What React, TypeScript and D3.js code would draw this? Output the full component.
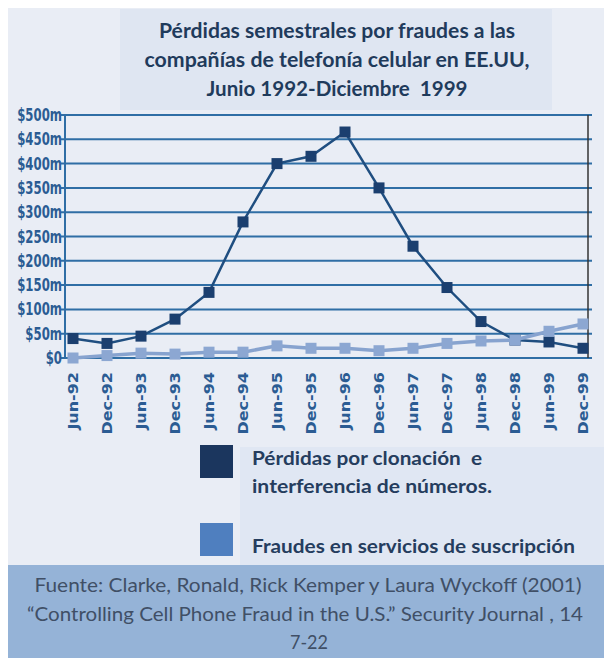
import React from "react";
import * as d3 from "d3";

// semestres
const categories = [
  "Jun-92", "Dec-92", "Jun-93", "Dec-93", "Jun-94", "Dec-94", "Jun-95", "Dec-95",
  "Jun-96", "Dec-96", "Jun-97", "Dec-97", "Jun-98", "Dec-98", "Jun-99", "Dec-99",
];
// millones de dólares
const clonacion = [40, 30, 45, 80, 135, 280, 400, 415, 465, 350, 230, 145, 75, 37, 33, 20];
const suscripcion = [0, 5, 10, 8, 12, 12, 25, 20, 20, 15, 20, 30, 35, 37, 55, 70];
const yTicks = [0, 50, 100, 150, 200, 250, 300, 350, 400, 450, 500];

const titleLines = [
  "Pérdidas semestrales por fraudes a las",
  "compañías de telefonía celular en EE.UU,",
  "Junio 1992-Diciembre  1999",
];
const legendItems = [
  { lines: ["Pérdidas por clonación  e", "interferencia de números."], color: "#1b365e" },
  { lines: ["Fraudes en servicios de suscripción"], color: "#4f7fbf" },
];
const sourceLines = [
  "Fuente: Clarke, Ronald, Rick Kemper y Laura Wyckoff (2001)",
  "“Controlling Cell Phone Fraud in the U.S.” Security Journal , 14",
  "7-22",
];

export default function App() {
  const width = 604;
  const height = 658;

  const x = d3.scalePoint<string>().domain(categories).range([73, 583]);
  const y = d3.scaleLinear().domain([0, 500]).range([358, 115]);

  const line = d3
    .line<number>()
    .x((d, i) => x(categories[i]) as number)
    .y((d) => y(d));

  const series = [
    { values: clonacion, stroke: "#1f4e80", fill: "#1b3f6f", sw: 2.5 },
    { values: suscripcion, stroke: "#87a3cf", fill: "#8ca7d2", sw: 3.5 },
  ];

  const tickFont = "'DejaVu Sans Condensed', 'DejaVu Sans', sans-serif";
  const textFont = "Lato, 'Open Sans', sans-serif";

  return (
    <svg width={width} height={height} style={{ position: "absolute", left: 0, top: 0 }}>
      <rect x={0} y={0} width={width} height={height} fill="#ffffff" />
      {/* panel de fondo */}
      <rect x={8} y={8} width={width - 8} height={height - 8} fill="#e9edf5" />
      {/* caja del título */}
      <rect x={120} y={9} width={432} height={101} fill="#dfe6f2" />
      {titleLines.map((t, i) => (
        <text
          key={t}
          x={337}
          y={38 + i * 29}
          textAnchor="middle"
          fontFamily={textFont}
          fontWeight={700}
          fontSize={20}
          fill="#1f3b5c"
          textLength={[356, 385, 261][i]}
          lengthAdjust="spacingAndGlyphs"
          style={{ whiteSpace: "pre" }}
        >
          {t}
        </text>
      ))}

      {/* rejilla */}
      {yTicks.map((t) => (
        <line key={t} x1={61} x2={592} y1={y(t)} y2={y(t)} stroke="#2f6ea5" strokeWidth={2} />
      ))}
      <line x1={65} x2={65} y1={y(500)} y2={y(0)} stroke="#2f6ea5" strokeWidth={2} />
      <line x1={588} x2={588} y1={y(500)} y2={y(0)} stroke="#333333" strokeWidth={1.5} />

      {/* etiquetas eje y */}
      {yTicks.map((t) => (
        <text
          key={t}
          transform={`translate(62,${y(t) + 6}) scale(0.93,1.3)`}
          textAnchor="end"
          fontFamily={tickFont}
          fontWeight={700}
          fontSize={14}
          fill="#2b5c93"
        >
          {t === 0 ? "$0" : `$${t}m`}
        </text>
      ))}

      {/* etiquetas eje x */}
      {categories.map((c) => (
        <text
          key={c}
          transform={`translate(${(x(c) as number) + 5},372) rotate(-90) scale(1.27,1)`}
          textAnchor="end"
          fontFamily={tickFont}
          fontWeight={700}
          fontSize={14}
          fill="#2b5c93"
        >
          {c}
        </text>
      ))}

      {/* series */}
      {series.map((s, k) => (
        <g key={k}>
          <path d={line(s.values) || ""} fill="none" stroke={s.stroke} strokeWidth={s.sw} />
          {s.values.map((v, i) => (
            <rect
              key={i}
              x={(x(categories[i]) as number) - 5.5}
              y={y(v) - 5.5}
              width={11}
              height={11}
              fill={s.fill}
            />
          ))}
        </g>
      ))}

      {/* leyenda */}
      <rect x={240} y={447} width={364} height={118} fill="#e0e7f3" />
      {legendItems.map((item, k) => (
        <g key={k}>
          <rect x={200} y={k === 0 ? 445 : 523} width={33} height={33} fill={item.color} />
          {item.lines.map((l, j) => (
            <text
              key={l}
              x={252}
              y={k === 0 ? 465 + j * 28 : 553}
              fontFamily={textFont}
              fontWeight={700}
              fontSize={18}
              fill="#253d5e"
              textLength={k === 0 ? [230, 240][j] : 323}
              lengthAdjust="spacingAndGlyphs"
              style={{ whiteSpace: "pre" }}
            >
              {l}
            </text>
          ))}
        </g>
      ))}

      {/* fuente */}
      <rect x={8} y={565} width={width - 8} height={height - 565} fill="#95b3d7" />
      {sourceLines.map((l, i) => (
        <text
          key={l}
          x={[308, 305, 309][i]}
          y={592 + i * 28.5}
          textAnchor="middle"
          fontFamily={textFont}
          fontSize={20}
          fill="#404f66"
          textLength={[547, 556, 38][i]}
          lengthAdjust="spacingAndGlyphs"
        >
          {l}
        </text>
      ))}
    </svg>
  );
}
